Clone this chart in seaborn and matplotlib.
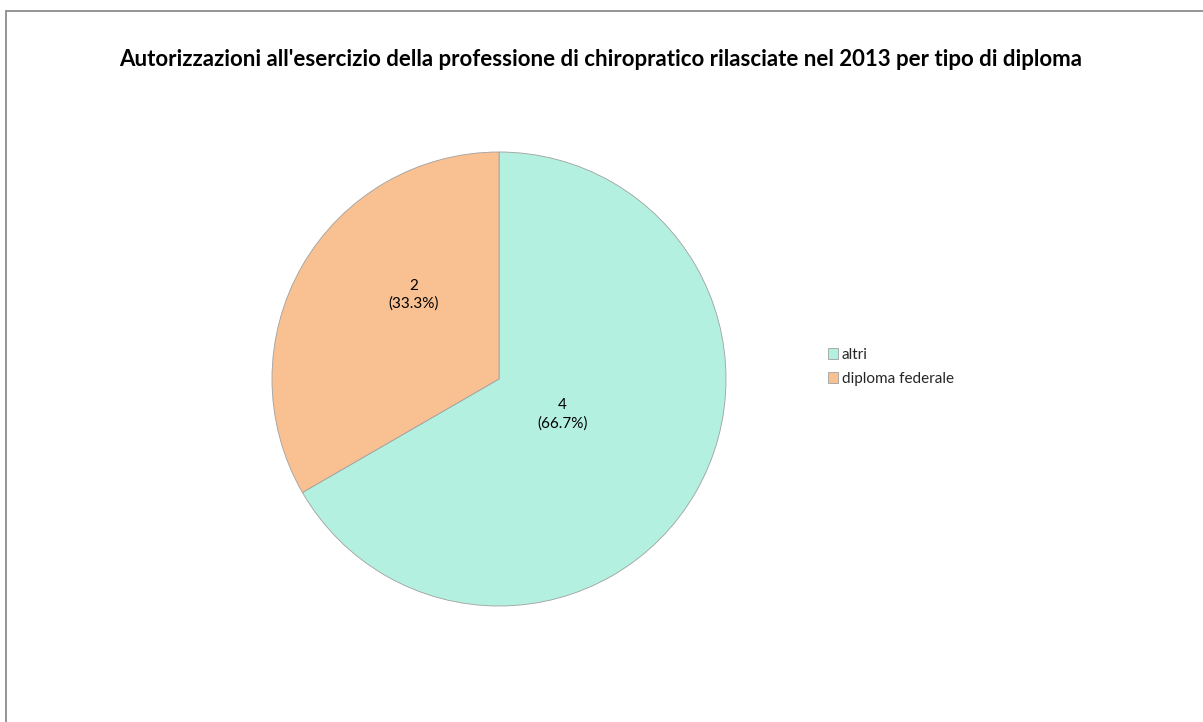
import matplotlib
matplotlib.use("Agg")
import matplotlib.pyplot as plt
import seaborn as sns
from matplotlib.patches import Rectangle

# data
categories = ["altri", "diploma federale"]
values = [4, 2]
slice_colors = ["#B3F0DF", "#F9C192"]

title = "Autorizzazioni all'esercizio della professione di chiropratico rilasciate nel 2013 per tipo di diploma"

sns.set_theme(style="white")
plt.rcParams['font.family'] = ['Lato', 'DejaVu Sans']

W, H = 1203, 722
fig = plt.figure(figsize=(W / 100, H / 100), dpi=100)

# pie axes placed in pixels
cx, cy, r = 499, 379, 227
ax = fig.add_axes([(cx - r) / W, 1 - (cy + r) / H, 2 * r / W, 2 * r / H])

pal = sns.color_palette(slice_colors)
wedges, _ = ax.pie(values, colors=pal, startangle=90, counterclock=False,
                   wedgeprops=dict(edgecolor="#A0A0A0", linewidth=0.6))
ax.set_xlim(-1, 1)
ax.set_ylim(-1, 1)
ax.set_aspect("equal")
ax.axis("off")

# label spots inside each slice (fraction of radius), like Excel puts them
label_pos = [(0.28, -0.155), (-0.375, 0.37)]
total = sum(values)
for (lx, ly), v in zip(label_pos, values):
    ax.text(lx, ly, f"{v}\n({v / total * 100:.1f}%)",
            ha="center", va="center", fontsize=11, color="black", linespacing=1.35)

fig.legend(wedges, categories, loc="center left", bbox_to_anchor=(814 / W, 1 - 367 / H),
           frameon=False, fontsize=11, handlelength=0.7, handleheight=0.7,
           handletextpad=0.2, labelspacing=0.65)
for h in fig.legends[0].legend_handles:
    h.set_edgecolor("#A0A0A0")
    h.set_linewidth(0.6)

fig.text(601 / W, 1 - 60 / H, title, ha="center", va="center",
         fontsize=16, fontweight="bold", color="black")

# outer frame
fig.patches.append(Rectangle((6 / W, -0.1), 1.2, 1 - 11 / H + 0.1, transform=fig.transFigure,
                             fill=False, edgecolor="#8C8C8C", linewidth=1.3))

fig.savefig("out.png", dpi=100)
